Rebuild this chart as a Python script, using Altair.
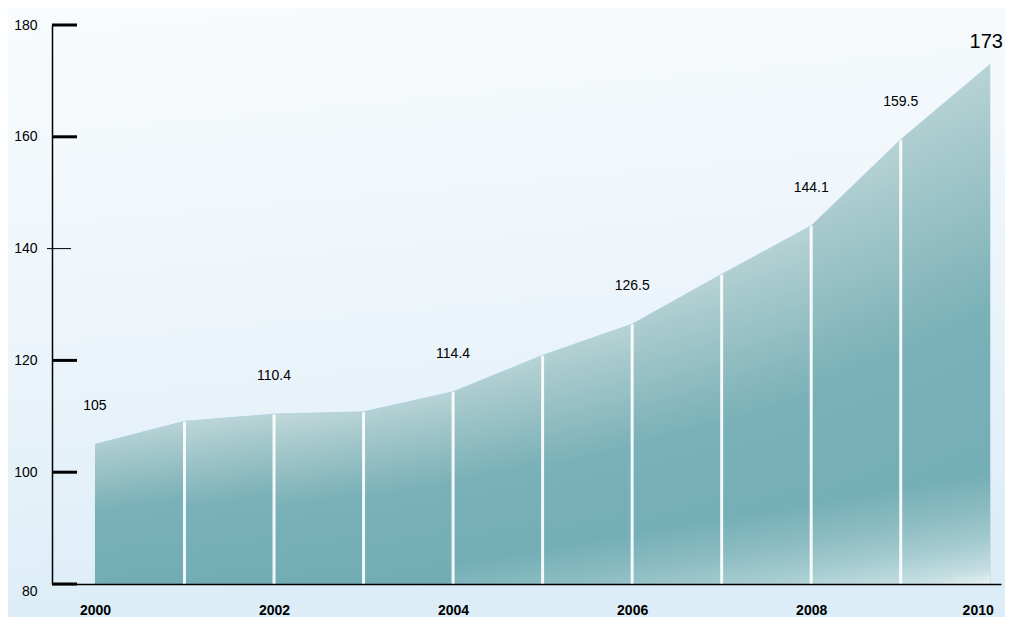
import altair as alt
import pandas as pd

# ---- data ----
years = list(range(2000, 2011))
values = [105, 109.1, 110.4, 110.8, 114.4, 120.9, 126.5, 135.4, 144.1, 159.5, 173]
label_years = [2000, 2002, 2004, 2006, 2008, 2009]
big_label_years = [2010]
y_ticks = [80, 100, 120, 140, 160, 180]
x_ticks = [2000, 2002, 2004, 2006, 2008, 2010]

df = pd.DataFrame({"year": years, "value": values})
df["label"] = [f"{v:g}" for v in values]

seg_rows = []
for i in range(len(years) - 1):
    for j in (i, i + 1):
        seg_rows.append({"year": years[j], "value": values[j], "seg": i})
seg_df = pd.DataFrame(seg_rows)
tick_df = pd.DataFrame({"v": y_ticks})

W, H = 949, 559
PAD = {"left": 44, "top": 17, "right": 4, "bottom": 33}
FONT = "Liberation Sans, Arial, sans-serif"

x_scale = alt.Scale(domain=[1999.52, 2010.12], nice=False, zero=False)
y_scale = alt.Scale(domain=[80, 180], nice=False, zero=False)

x_axis = alt.Axis(values=x_ticks, format="d", ticks=False, grid=False,
                  domainColor="#000", domainWidth=1.5, labelColor="#000",
                  labelFont=FONT, labelFontSize=14, labelFontWeight="bold",
                  labelPadding=19, labelFlush=15, labelFlushOffset=3,
                  title=None, zindex=1)
y_axis = alt.Axis(values=y_ticks, ticks=False, grid=False,
                  domainColor="#000", domainWidth=1.5, labelColor="#000",
                  labelFont=FONT, labelFontSize=14, labelPadding=15,
                  labelBaseline={"condition": {"test": "datum.value == 80", "value": "top"}, "value": "middle"},
                  title=None, zindex=1)

def X(field):
    return alt.X(field, scale=x_scale, axis=x_axis)

def Y(field):
    return alt.Y(field, scale=y_scale, axis=y_axis, stack=None)

bg_grad = alt.Gradient(
    gradient="linear",
    stops=[alt.GradientStop(color="#f8fbfd", offset=0),
           alt.GradientStop(color="#eff6fb", offset=0.45),
           alt.GradientStop(color="#dcedf7", offset=1)],
    x1=0, y1=0, x2=0.15, y2=1)

bg = alt.Chart(pd.DataFrame({"a": [0]})).mark_rect(fill=bg_grad, strokeWidth=0).encode(
    x=alt.value(-PAD["left"]), x2=alt.value(W + PAD["right"]),
    y=alt.value(-PAD["top"]), y2=alt.value(H + PAD["bottom"]))

seg_grad = alt.Gradient(
    gradient="linear",
    stops=[alt.GradientStop(color="#c2d9da", offset=0),
           alt.GradientStop(color="#a5c8cb", offset=0.22),
           alt.GradientStop(color="#7ab1b8", offset=0.55),
           alt.GradientStop(color="#72adb5", offset=1)],
    x1=0, y1=0, x2=0.08, y2=1)

area = alt.Chart(seg_df).mark_area(fill=seg_grad, opacity=1, interpolate="linear").encode(
    x=X("year:Q"), y=Y("value:Q"), detail="seg:N")

glow_grad = alt.Gradient(
    gradient="linear",
    stops=[alt.GradientStop(color="rgba(248,252,252,0)", offset=0),
           alt.GradientStop(color="rgba(248,252,252,0)", offset=0.42),
           alt.GradientStop(color="rgba(248,252,252,0.18)", offset=0.61),
           alt.GradientStop(color="rgba(248,252,252,0.37)", offset=0.77),
           alt.GradientStop(color="rgba(248,252,252,0.62)", offset=0.92),
           alt.GradientStop(color="rgba(248,252,252,0.88)", offset=1)],
    x1=0.3, y1=0, x2=1, y2=1)

glow = alt.Chart(df).transform_filter("datum.year >= 2004").transform_calculate(
    top="103").mark_area(fill=glow_grad, opacity=1).encode(
    x=X("year:Q"), y=Y("top:Q"))

rules = alt.Chart(df).transform_filter(
    "datum.year > 2000 && datum.year < 2010").mark_rule(
    color="#ffffff", strokeWidth=3, opacity=0.9).encode(
    x=X("year:Q"), y=Y("value:Q"), y2=alt.datum(80))

top_line = alt.Chart(df).mark_line(color="#a9cde0", strokeWidth=1, opacity=0.7).encode(
    x=X("year:Q"), y=Y("value:Q"))

major = alt.Chart(tick_df).transform_filter("datum.v != 140").mark_rule(
    color="#000", strokeWidth=3).encode(
    y=Y("v:Q"), x=alt.value(0), x2=alt.value(25))

minor = alt.Chart(tick_df).transform_filter("datum.v == 140").mark_rule(
    color="#000", strokeWidth=1).encode(
    y=Y("v:Q"), x=alt.value(-5), x2=alt.value(19))

labels = alt.Chart(df).transform_filter(
    alt.FieldOneOfPredicate(field="year", oneOf=label_years)).mark_text(
    font=FONT, fontSize=14, dy=-38, color="#000").encode(
    x=X("year:Q"), y=Y("value:Q"), text="label:N")

big_labels = alt.Chart(df).transform_filter(
    alt.FieldOneOfPredicate(field="year", oneOf=big_label_years)).mark_text(
    font=FONT, fontSize=20, dy=-22, dx=-4, color="#000").encode(
    x=X("year:Q"), y=Y("value:Q"), text="label:N")

chart = alt.layer(bg, area, glow, rules, top_line, major, minor, labels, big_labels).properties(
    width=W, height=H,
    autosize=alt.AutoSizeParams(type="none"),
    padding=PAD,
    background="#eef6fb",
).configure_view(stroke=None)

chart.save("out.html", embed_options={"renderer": "svg", "actions": False})
